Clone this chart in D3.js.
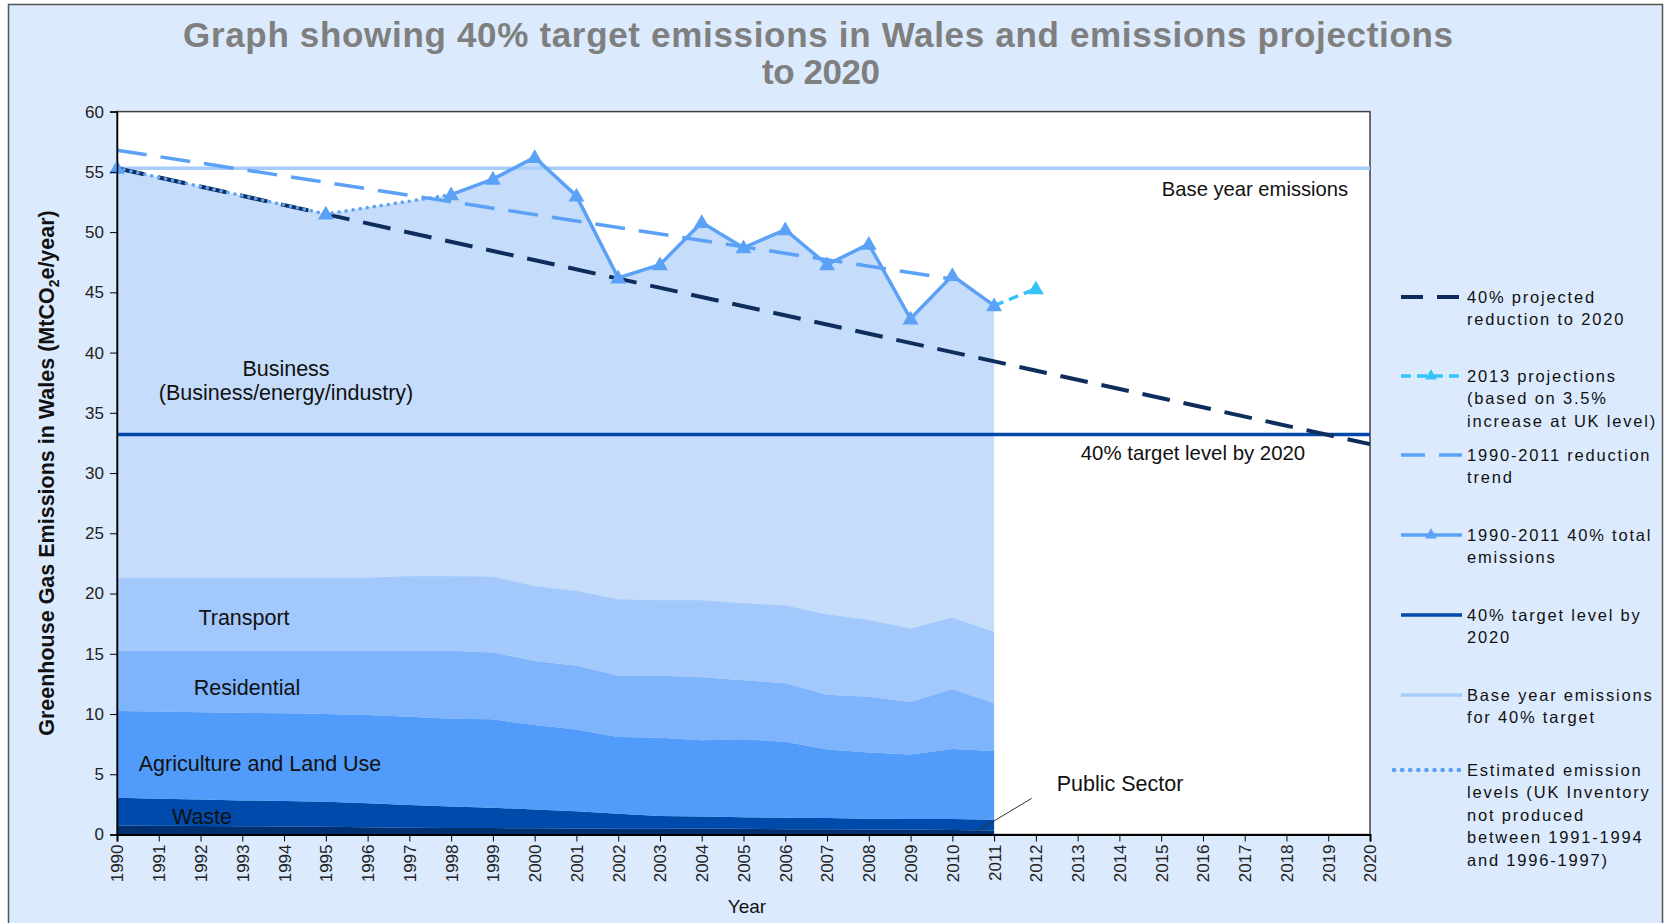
<!DOCTYPE html>
<html>
<head>
<meta charset="utf-8">
<script src="https://cdn.jsdelivr.net/npm/d3@7"></script>
<style>
  body { margin: 0; background: #ffffff; }
  svg text { font-family: "Liberation Sans", Arial, sans-serif; fill: #111; }
</style>
</head>
<body>
<div id="viz"></div>
<script>
// sector emissions 1990-2011 (MtCO2e)
const sectorYears = [1990, 1991, 1992, 1993, 1994, 1995, 1996, 1997, 1998, 1999, 2000,
  2001, 2002, 2003, 2004, 2005, 2006, 2007, 2008, 2009, 2010, 2011];
const publicSector = [0.75, 0.73, 0.71, 0.69, 0.67, 0.64, 0.61, 0.56, 0.54, 0.53, 0.52,
  0.50, 0.47, 0.47, 0.50, 0.48, 0.44, 0.44, 0.42, 0.42, 0.38, 0.33];
const waste = [2.31, 2.24, 2.19, 2.14, 2.11, 2.08, 1.99, 1.88, 1.79, 1.69, 1.56,
  1.44, 1.25, 1.06, 1.00, 0.96, 0.95, 0.92, 0.88, 0.86, 0.90, 0.89];
const agriculture = [7.19, 7.23, 7.24, 7.27, 7.28, 7.28, 7.32, 7.34, 7.28, 7.34, 7.00,
  6.78, 6.38, 6.50, 6.33, 6.46, 6.31, 5.69, 5.50, 5.36, 5.82, 5.72];
const residential = [5.00, 5.05, 5.11, 5.15, 5.19, 5.25, 5.33, 5.47, 5.64, 5.54, 5.32,
  5.28, 5.10, 5.14, 5.23, 4.90, 4.85, 4.55, 4.64, 4.36, 4.96, 3.96];
const transport = [6.05, 6.05, 6.05, 6.05, 6.05, 6.05, 6.05, 6.19, 6.19, 6.30, 6.20,
  6.20, 6.30, 6.27, 6.38, 6.40, 6.45, 6.65, 6.36, 6.10, 5.94, 5.90];

// total emissions (business fills up to this)
const totalYears = [1990, 1995, 1998, 1999, 2000, 2001, 2002, 2003, 2004, 2005, 2006,
  2007, 2008, 2009, 2010, 2011];
const totalValues = [55.3, 51.5, 53.1, 54.4, 56.2, 53.0, 46.2, 47.3, 50.8, 48.7, 50.2,
  47.3, 49.0, 42.8, 46.4, 43.9];
const estimatedYears = [1990, 1995, 1998];
const estimatedValues = [55.3, 51.5, 53.1];

const projectionYears = [2011, 2012];
const projectionValues = [43.9, 45.3];
const trendYears = [1990, 2010];
const trendValues = [56.8, 46.1];
const reductionYears = [1990, 2020];
const reductionValues = [55.3, 32.4];
const baseYearLevel = 55.3;
const targetLevel = 33.2;

const xTicks = d3.range(1990, 2021);
const yTicks = [0, 5, 10, 15, 20, 25, 30, 35, 40, 45, 50, 55, 60];

const colors = {
  bg: "#dceafd",
  business: "#c5ddfb",
  transport: "#a3c9fc",
  residential: "#7db4fb",
  agriculture: "#519bfb",
  waste: "#004aab",
  publicSector: "#00306f",
  total: "#5ba2f6",
  trend: "#5ba2f6",
  reduction: "#0e2d5c",
  projection: "#35c3f8",
  target: "#0049a9",
  base: "#a9cdf9"
};

const w = 1667, h = 923;
const svg = d3.select("#viz").append("svg")
  .attr("width", w).attr("height", h);

svg.append("rect").attr("width", w).attr("height", h).attr("fill", "#fff");
svg.append("rect")
  .attr("x", 8.5).attr("y", 4.5).attr("width", 1654).attr("height", 940)
  .attr("fill", colors.bg).attr("stroke", "#555").attr("stroke-width", 1.5);

const x = d3.scaleLinear().domain([1990, 2020]).range([117, 1370]);
const y = d3.scaleLinear().domain([0, 60]).range([834.5, 111.6]);

// title
svg.append("text")
  .attr("x", 818).attr("y", 47)
  .attr("text-anchor", "middle")
  .attr("textLength", 1270).attr("lengthAdjust", "spacing")
  .style("font-size", "35px").style("font-weight", "bold").style("fill", "#7f7f7f")
  .text("Graph showing 40% target emissions in Wales and emissions projections");
svg.append("text")
  .attr("x", 821).attr("y", 84)
  .attr("text-anchor", "middle")
  .attr("textLength", 118).attr("lengthAdjust", "spacing")
  .style("font-size", "35px").style("font-weight", "bold").style("fill", "#7f7f7f")
  .text("to 2020");

// plot area
svg.append("rect")
  .attr("x", x(1990)).attr("y", y(60))
  .attr("width", x(2020) - x(1990)).attr("height", y(0) - y(60))
  .attr("fill", "#fff").attr("stroke", "#404040").attr("stroke-width", 1.5);

const totals = totalYears.map((yr, i) => ({ year: yr, value: totalValues[i] }));

// business fills from zero up to total, sectors stack over it
svg.append("path")
  .datum(totals)
  .attr("fill", colors.business)
  .attr("d", d3.area().x(d => x(d.year)).y0(y(0)).y1(d => y(d.value)));

const rows = sectorYears.map((yr, i) => ({
  year: yr,
  publicSector: publicSector[i],
  waste: waste[i],
  agriculture: agriculture[i],
  residential: residential[i],
  transport: transport[i]
}));
const keys = ["publicSector", "waste", "agriculture", "residential", "transport"];
const series = d3.stack().keys(keys)(rows);

svg.append("g").selectAll("path")
  .data(series)
  .join("path")
  .attr("fill", d => colors[d.key])
  .attr("d", d3.area()
    .x(d => x(d.data.year))
    .y0(d => y(d[0]))
    .y1(d => y(d[1])));

// reference lines
svg.append("line")
  .attr("x1", x(1990)).attr("x2", x(2020))
  .attr("y1", y(baseYearLevel)).attr("y2", y(baseYearLevel))
  .attr("stroke", colors.base).attr("stroke-width", 3.5);
svg.append("line")
  .attr("x1", x(1990)).attr("x2", x(2020))
  .attr("y1", y(targetLevel)).attr("y2", y(targetLevel))
  .attr("stroke", colors.target).attr("stroke-width", 3.5);

const line = d3.line().x(d => x(d[0])).y(d => y(d[1]));
const zip = (a, b) => a.map((v, i) => [v, b[i]]);

svg.append("path")
  .datum(zip(reductionYears, reductionValues))
  .attr("fill", "none").attr("stroke", colors.reduction)
  .attr("stroke-width", 4).attr("stroke-dasharray", "28 14")
  .attr("d", line);

svg.append("path")
  .datum(zip(trendYears, trendValues))
  .attr("fill", "none").attr("stroke", colors.trend)
  .attr("stroke-width", 3.5).attr("stroke-dasharray", "30 14")
  .attr("d", line);

// estimated (dotted) part of the totals
svg.append("path")
  .datum(zip(estimatedYears, estimatedValues))
  .attr("fill", "none").attr("stroke", colors.total)
  .attr("stroke-width", 3.5).attr("stroke-linecap", "round")
  .attr("stroke-dasharray", "0.1 7")
  .attr("d", line);

svg.append("path")
  .datum(totals.filter(d => d.year >= 1998).map(d => [d.year, d.value]))
  .attr("fill", "none").attr("stroke", colors.total)
  .attr("stroke-width", 3.5).attr("stroke-linejoin", "miter")
  .attr("d", line);

svg.append("path")
  .datum(zip(projectionYears, projectionValues))
  .attr("fill", "none").attr("stroke", colors.projection)
  .attr("stroke-width", 3.5).attr("stroke-dasharray", "10 6")
  .attr("d", line);

const tri = d3.symbol().type(d3.symbolTriangle).size(110);
svg.append("g").selectAll("path")
  .data(totals)
  .join("path")
  .attr("transform", d => `translate(${x(d.year)},${y(d.value) + 1})`)
  .attr("fill", colors.total)
  .attr("d", tri);
svg.append("path")
  .attr("transform", `translate(${x(projectionYears[1])},${y(projectionValues[1]) + 1})`)
  .attr("fill", colors.projection)
  .attr("d", tri);

// axes
const yAxis = svg.append("g")
  .attr("transform", `translate(${x(1990)},0)`)
  .call(d3.axisLeft(y).tickValues(yTicks).tickSize(7).tickPadding(6));
yAxis.selectAll("text").style("font-size", "17px").style("fill", "#222");
yAxis.select(".domain").attr("stroke", "#000").attr("stroke-width", 1.5);

const xAxis = svg.append("g")
  .attr("transform", `translate(0,${y(0)})`)
  .call(d3.axisBottom(x).tickValues(xTicks).tickFormat(d3.format("d")).tickSize(7));
xAxis.select(".domain").attr("stroke", "#000").attr("stroke-width", 2);
xAxis.selectAll("text")
  .attr("transform", "rotate(-90)")
  .attr("x", -10).attr("y", 0).attr("dy", "0.35em")
  .attr("text-anchor", "end")
  .style("font-size", "17px").style("fill", "#222");

svg.append("text")
  .attr("x", 747).attr("y", 913)
  .attr("text-anchor", "middle")
  .style("font-size", "19px")
  .text("Year");

const yTitle = svg.append("text")
  .attr("transform", "translate(54,473) rotate(-90)")
  .attr("text-anchor", "middle")
  .style("font-size", "21.5px").style("font-weight", "bold");
yTitle.append("tspan").text("Greenhouse Gas Emissions in Wales (MtCO");
yTitle.append("tspan").attr("dy", 5).style("font-size", "14px").text("2");
yTitle.append("tspan").attr("dy", -5).text("e/year)");

// annotations inside plot
const note = (tx, ty, s, size) => svg.append("text")
  .attr("x", tx).attr("y", ty).attr("text-anchor", "middle")
  .attr("dy", "0.35em")
  .style("font-size", (size || 21.5) + "px")
  .text(s);
note(286, 368, "Business");
note(286, 392, "(Business/energy/industry)");
note(244, 617, "Transport");
note(247, 687, "Residential");
note(260, 763, "Agriculture and Land Use");
note(202, 816, "Waste");
note(1255, 189, "Base year emissions", 20.2);
note(1193, 453, "40% target level by 2020", 20.4);
note(1120, 783, "Public Sector", 21.5);

svg.append("line")
  .attr("x1", x(2010.6)).attr("y1", y(0.3))
  .attr("x2", x(2011.9)).attr("y2", y(3.0))
  .attr("stroke", "#333").attr("stroke-width", 1);

// legend
const legendItems = [
  { lines: ["40% projected", "reduction to 2020"], color: colors.reduction, dash: "22 14", width: 4 },
  { lines: ["2013 projections", "(based on 3.5%", "increase at UK level)"], color: colors.projection, dash: "10 6", width: 3.5, marker: true },
  { lines: ["1990-2011 reduction", "trend"], color: colors.trend, dash: "24 14", width: 3.5 },
  { lines: ["1990-2011 40% total", "emissions"], color: colors.total, width: 3.5, marker: true },
  { lines: ["40% target level by", "2020"], color: colors.target, width: 3.5 },
  { lines: ["Base year emissions", "for 40% target"], color: colors.base, width: 3.5 },
  { lines: ["Estimated  emission", "levels (UK Inventory", "not produced", "between 1991-1994", "and 1996-1997)"], color: colors.total, dash: "0.1 8", width: 4.5, dotted: true }
];
const legendRows = [297, 376, 455, 535, 615, 695, 770];

const legend = svg.append("g");
legendItems.forEach((item, i) => {
  const g = legend.append("g").attr("transform", `translate(0,${legendRows[i]})`);
  g.append("line")
    .attr("x1", item.dotted ? 1394 : 1401).attr("x2", 1462)
    .attr("y1", 0).attr("y2", 0)
    .attr("stroke", item.color).attr("stroke-width", item.width)
    .attr("stroke-linecap", item.dotted ? "round" : "butt")
    .attr("stroke-dasharray", item.dash || null);
  if (item.marker) {
    g.append("path").attr("transform", "translate(1431,0)")
      .attr("fill", item.color)
      .attr("d", d3.symbol().type(d3.symbolTriangle).size(60)());
  }
  const t = g.append("text")
    .attr("x", 1467).attr("y", 0).attr("dy", "0.35em")
    .style("font-size", "16.5px").style("letter-spacing", "1.8px")
    .style("fill", "#111");
  item.lines.forEach((s, j) => {
    t.append("tspan").attr("x", 1467).attr("dy", j === 0 ? "0.35em" : "22.5px").text(s);
  });
});
</script>
</body>
</html>
